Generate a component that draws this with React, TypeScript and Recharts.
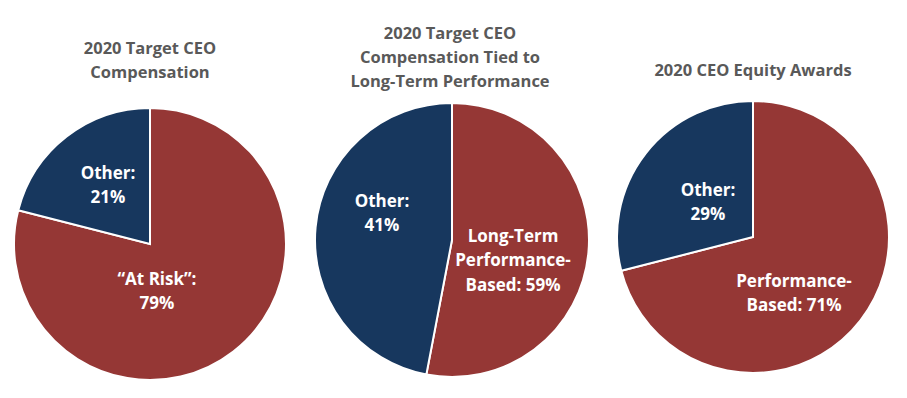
import { PieChart, Pie, Cell } from 'recharts';

const titles = [
  ['2020 Target CEO', 'Compensation'],
  ['2020 Target CEO', 'Compensation Tied to', 'Long-Term Performance'],
  ['2020 CEO Equity Awards'],
];

const sliceNames = [
  ['“At Risk”:', 'Other:'],
  ['Long-Term Performance-Based:', 'Other:'],
  ['Performance-Based:', 'Other:'],
];

// slice sizes as drawn in the picture (the middle pie is drawn at about 53 / 47
// even though its labels read 59% / 41%)
const sliceValues = [
  [79, 21],
  [53, 47],
  [71, 29],
];

const labelLines = [
  [['“At Risk”:', '79%'], ['Other:', '21%']],
  [['Long-Term', 'Performance-', 'Based: 59%'], ['Other:', '41%']],
  [['Performance-', 'Based: 71%'], ['Other:', '29%']],
];

const COLORS = ['#953735', '#17375E'];
const FONT = '"Open Sans", "Liberation Sans", sans-serif';

// layout of each pie (center, radius, title position, label offsets)
const layout = [
  { cx: 150, cy: 244, r: 136, titleY: 48, titleX: 150, offsets: [[7, 46], [-42, -60]] },
  { cx: 452, cy: 240, r: 137, titleY: 33, titleX: 450, offsets: [[61, 19], [-70, -28]] },
  { cx: 753, cy: 237, r: 136, titleY: 70, titleX: 753, offsets: [[41, 55], [-45, -36]] },
];

const LINE_H = 24.5;

function makeLabel(p: number) {
  return (props: any) => {
    const { cx, cy, index } = props;
    const [ox, oy] = layout[p].offsets[index];
    const lines = labelLines[p][index];
    const startY = cy + oy - ((lines.length - 1) * LINE_H) / 2;
    return (
      <text
        x={cx + ox}
        y={startY}
        textAnchor="middle"
        dominantBaseline="central"
        fill="#ffffff"
        fontFamily={FONT}
        fontWeight={700}
        fontSize={17}
      >
        {lines.map((l, i) => (
          <tspan key={i} x={cx + ox} y={startY + i * LINE_H}>
            {l}
          </tspan>
        ))}
      </text>
    );
  };
}

export default function App() {
  return (
    <div style={{ position: 'absolute', left: 0, top: 0, width: 907, height: 398, background: '#fff' }}>
      <PieChart width={907} height={398} margin={{ top: 0, right: 0, bottom: 0, left: 0 }}>
        {sliceValues.map((vals, p) => {
          const data = vals.map((v, i) => ({ name: sliceNames[p][i], value: v }));
          return (
            <Pie
              key={p}
              data={data}
              dataKey="value"
              nameKey="name"
              cx={layout[p].cx}
              cy={layout[p].cy}
              outerRadius={layout[p].r}
              startAngle={90}
              endAngle={-270}
              stroke="#ffffff"
              strokeWidth={2}
              labelLine={false}
              label={makeLabel(p)}
              isAnimationActive={false}
            >
              {data.map((d, i) => (
                <Cell key={d.name} fill={COLORS[i]} />
              ))}
            </Pie>
          );
        })}
      </PieChart>
      {titles.map((t, p) =>
        t.map((line, i) => (
          <div
            key={`${p}-${i}`}
            style={{
              position: 'absolute',
              left: layout[p].titleX - 150,
              width: 300,
              top: layout[p].titleY + i * 24 - 12,
              height: 24,
              lineHeight: '24px',
              textAlign: 'center',
              fontFamily: FONT,
              fontWeight: 700,
              fontSize: 16.5,
              color: '#595959',
            }}
          >
            {line}
          </div>
        ))
      )}
    </div>
  );
}
